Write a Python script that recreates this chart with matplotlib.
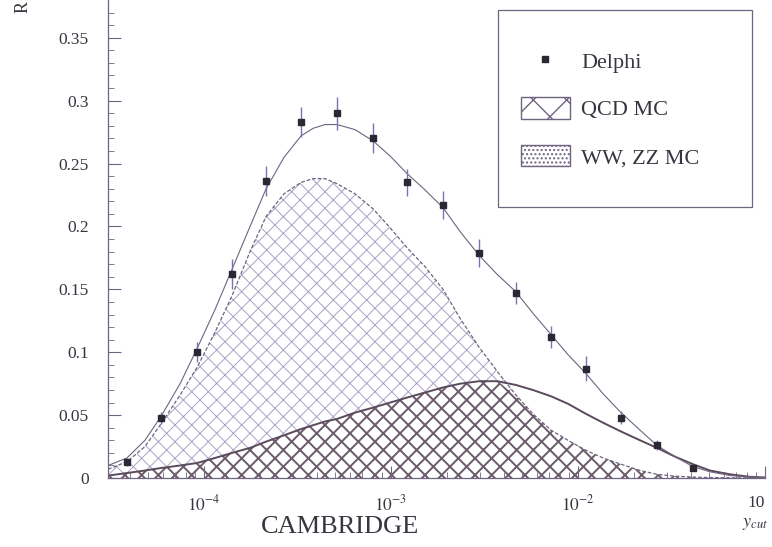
import numpy as np
import matplotlib
matplotlib.use('Agg')
import matplotlib.pyplot as plt
from matplotlib.patches import Rectangle, Patch
from matplotlib.lines import Line2D

plt.rcParams['font.family'] = ['Liberation Serif', 'DejaVu Serif']
plt.rcParams['mathtext.fontset'] = 'stix'

# log10(y_cut) grid on which the MC curves were read
logx_curve = [-4.513, -4.412, -4.316, -4.230, -4.128, -4.037, -3.941, -3.850, -3.754,
              -3.668, -3.572, -3.481, -3.417, -3.353, -3.289, -3.193, -3.096, -3.005,
              -2.914, -2.818, -2.722, -2.631, -2.529, -2.433, -2.332, -2.241, -2.144,
              -2.053, -1.957, -1.866, -1.770, -1.668, -1.578, -1.481, -1.385, -1.294,
              -1.187, -1.080, -1.000]
qcd = [0.007, 0.013, 0.025, 0.043, 0.066, 0.088, 0.116, 0.145, 0.180, 0.208, 0.226,
       0.235, 0.238, 0.238, 0.234, 0.226, 0.214, 0.199, 0.183, 0.168, 0.150, 0.127,
       0.104, 0.085, 0.066, 0.051, 0.038, 0.030, 0.022, 0.016, 0.011, 0.006, 0.003,
       0.0015, 0.0008, 0.0004, 0.0002, 0.0001, 0.0]
ww = [0.002, 0.004, 0.006, 0.008, 0.010, 0.012, 0.016, 0.020, 0.024, 0.029, 0.034,
      0.039, 0.042, 0.045, 0.047, 0.052, 0.056, 0.060, 0.064, 0.068, 0.072, 0.075,
      0.077, 0.077, 0.074, 0.070, 0.065, 0.059, 0.051, 0.044, 0.037, 0.030, 0.024,
      0.017, 0.011, 0.006, 0.003, 0.001, 0.0005]
total = [0.010, 0.016, 0.030, 0.049, 0.075, 0.103, 0.134, 0.166, 0.200, 0.230, 0.255,
         0.272, 0.278, 0.281, 0.281, 0.277, 0.268, 0.256, 0.242, 0.229, 0.215, 0.196,
         0.177, 0.162, 0.148, 0.131, 0.114, 0.098, 0.083, 0.067, 0.052, 0.038, 0.026,
         0.017, 0.009, 0.005, 0.002, 0.0008, 0.0003]

# Delphi data
logx_data = [-4.412, -4.230, -4.037, -3.850, -3.668, -3.481, -3.289, -3.096, -2.914,
             -2.722, -2.529, -2.332, -2.144, -1.957, -1.770, -1.578, -1.385]
delphi = [0.0127, 0.0476, 0.100, 0.162, 0.236, 0.283, 0.290, 0.270, 0.235, 0.217,
          0.179, 0.147, 0.112, 0.087, 0.048, 0.026, 0.008]
delphi_err = [0.003, 0.005, 0.008, 0.012, 0.012, 0.012, 0.013, 0.012, 0.011, 0.011,
              0.011, 0.009, 0.009, 0.010, 0.005, 0.004, 0.002]

xc = 10 ** np.array(logx_curve)
xd = 10 ** np.array(logx_data)
overlap = np.minimum(qcd, ww)

line_col = '#6f6480'
light_hatch = '#aaa2c4'
dark_hatch = '#6d5c6c'
text_col = '#3a3440'

fig = plt.figure(figsize=(7.72, 5.47), dpi=100)
ax = fig.add_axes([0.140, 0.126, 0.851, 0.874])

with plt.rc_context({'hatch.linewidth': 0.7}):
    ax.fill_between(xc, 0, qcd, facecolor='none', edgecolor=light_hatch,
                    hatch='xx', linewidth=0)
with plt.rc_context({'hatch.linewidth': 1.4}):
    ax.fill_between(xc, 0, overlap, facecolor='none', edgecolor=dark_hatch,
                    hatch='xx', linewidth=0)

ax.plot(xc, qcd, color=line_col, lw=0.9, ls=(0, (3, 1.5)))
ax.plot(xc, ww, color='#5a4a5c', lw=1.4)
ax.plot(xc, total, color=line_col, lw=0.8)

ax.errorbar(xd, delphi, yerr=delphi_err, fmt='s', color='#2b2733', ms=5,
            ecolor='#7b72b0', elinewidth=1, capsize=0, zorder=5)

ax.set_xscale('log')
ax.set_xlim(10 ** -4.513, 0.1)
ax.set_ylim(0, 0.38)
ax.spines['top'].set_visible(False)
ax.spines['right'].set_visible(False)
for s in ['left', 'bottom']:
    ax.spines[s].set_color(line_col)
    ax.spines[s].set_linewidth(0.9)

ax.set_yticks(np.arange(0, 0.36, 0.05))
ax.set_yticklabels(['0', '0.05', '0.1', '0.15', '0.2', '0.25', '0.3', '0.35'])
ax.set_yticks(np.arange(0, 0.38, 0.01), minor=True)
ax.set_xticks([1e-4, 1e-3, 1e-2, 1e-1])
ax.set_xticklabels(['$10^{-4}$', '$10^{-3}$', '$10^{-2}$', '10'])
ax.get_xticklabels()[-1].set_horizontalalignment('right')
ax.tick_params(which='both', direction='in', colors=line_col, labelcolor=text_col,
               labelsize=12.5)
ax.tick_params(which='major', length=9)
ax.tick_params(which='minor', length=4)
ax.tick_params(axis='y', pad=14)
ax.tick_params(axis='x', pad=12)

fig.text(0.44, 0.025, 'CAMBRIDGE', fontsize=19, color=text_col, ha='center')
fig.text(0.978, 0.038, '$y_{cut}$', fontsize=13, color=text_col, ha='center')
fig.text(0.03, 0.998, 'R', fontsize=13, color=text_col, rotation=90,
         ha='center', va='top')

# legend box
ax.add_patch(Rectangle((0.594, 0.567), 0.386, 0.412, transform=ax.transAxes,
                       facecolor='white', edgecolor=line_col, lw=0.9, zorder=6))
handles = [Line2D([], [], marker='s', ls='none', color='#2b2733', ms=4),
           Patch(facecolor='white', edgecolor=line_col, hatch='x'),
           Patch(facecolor='white', edgecolor=line_col, hatch='....')]
labels = ['Delphi', 'QCD MC', 'WW, ZZ MC']
leg = ax.legend(handles, labels, loc='upper left', bbox_to_anchor=(0.615, 0.915),
                frameon=False, fontsize=16, handlelength=2.2, handleheight=1.1,
                labelspacing=1.1, handletextpad=0.5, borderaxespad=0)
leg.set_zorder(7)
for t in leg.get_texts():
    t.set_color(text_col)

fig.savefig('out.png', dpi=100)
